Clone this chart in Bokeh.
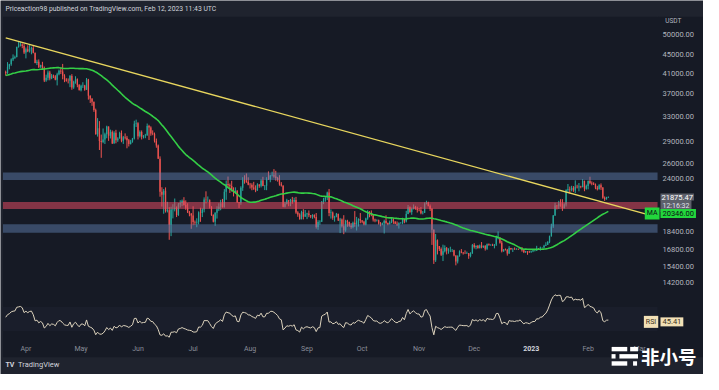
import numpy as np
import pandas as pd
from bokeh.plotting import figure
from bokeh.models import Range1d, LinearScale, BoxAnnotation, Label
from bokeh.core.properties import value
from bokeh.embed import file_html
from bokeh.resources import INLINE

# ---------------- data (BTC/USDT daily) ----------------
start_date = "2022-03-21"

# closes before the visible window (for the 50-day MA and RSI 14)
prior_close = [38480, 38740, 36950, 37150, 41570, 41410, 42410, 43840, 44040, 44380,
               43510, 42390, 42220, 42070, 42540, 44580, 43900, 40520, 40000, 40080,
               38370, 37010, 38250, 37250, 38330, 39210, 39140, 37700, 43190, 44420,
               43920, 42450, 39150, 39400, 38420, 37990, 38730, 41940, 39440, 38730,
               38810, 37780, 39670, 39280, 41110, 40920, 41760, 42200, 41260]

close = [
    41000, 42370, 42890, 43960, 44350, 44500, 46820, 47130, 47430, 47060, 45530,
    46280, 45810, 46400, 46580, 45500, 43170, 43440, 42280, 42760, 42160, 39530, 40080, 41150, 39940, 40550,
    40380, 39680, 40800, 41500, 41360, 40480, 39710, 39470, 39450, 40430, 38120, 39240, 39740, 38600, 37630,
    38470, 38530, 37710, 39690, 36550, 36010, 35470, 34040, 30080, 31010, 29080, 28940, 29280, 30080, 31300,
    29860, 30420, 28720, 30310, 29200, 29430, 30290, 29100, 29650, 29540, 29200, 28620, 29010, 29450, 31730, 31800,
    29800, 30450, 29700, 29860, 29900, 31370, 31120, 30200, 30110, 29090, 28420, 26570, 22490, 22130, 22580,
    20380, 20470, 19020, 20550, 20570, 20720, 19970, 21080, 21230, 21490, 21030, 20730, 20250, 20100, 19940,
    19290, 19240, 19310, 20230, 20190, 20550, 21620, 21590, 21590, 20860, 19970, 19320, 20210, 20580, 20830,
    21190, 20780, 22480, 23390, 23230, 23150, 22680, 22450, 22580, 21310, 21250, 22950, 23850, 23770, 23640, 23300,
    23270, 22980, 22820, 22620, 23310, 23180, 23810, 23150, 23160, 23950, 23940, 24400, 24440, 24300, 24090,
    23850, 23340, 23190, 20830, 21140, 21520, 21400, 21530, 21370, 21560, 20240, 20040, 19550, 20280, 19810, 20050,
    20130, 19950, 19830, 19990, 19790, 18790, 19290, 19320, 21360, 21650, 21830, 22400, 20180, 20230, 19700,
    19800, 20110, 19420, 19540, 18880, 18490, 19400, 19290, 18920, 18800, 19220, 19080, 19410, 19590, 19420,
    19310, 19050, 19620, 20340, 20160, 19960, 19530, 19420, 19450, 19130, 19060, 19150, 19380, 19190, 19070,
    19270, 19550, 19330, 19120, 19040, 19170, 19200, 19570, 19330, 20090, 20770, 20290, 20600, 20820, 20630, 20490,
    20480, 20150, 20210, 21150, 21300, 20910, 20590, 18540, 15880, 17590, 17070, 16810, 16330, 16620, 16900,
    16660, 16690, 16700, 16700, 16280, 15780, 16230, 16600, 16520, 16460, 16440, 16460, 16220, 16440, 17170,
    16980, 17090, 16890, 17110, 16970, 17090, 16840, 17230, 17130, 17130, 17090, 17210, 17780, 17810, 17360,
    16630, 16780, 16740, 16440, 16900, 16820, 16830, 16780, 16840, 16830, 16920, 16710, 16550, 16630, 16600, 16540,
    16620, 16680, 16680, 16850, 16830, 16950, 16950, 17090, 17190, 17440, 17940, 18850, 19930, 20960, 20880,
    21170, 21160, 20680, 21080, 22670, 22780, 22710, 22920, 22630, 23060, 23010, 23080, 23030, 23740, 22830, 23130,
    23730, 23490, 23430, 23330, 22940, 22760, 23240, 22960, 21800, 21630, 21860, 21875.47]

high = [
    41540, 43370, 43000, 44200, 45100, 44820, 46920, 48190, 48100, 47700, 47600,
    46700, 47210, 47440, 46890, 47200, 45510, 43900, 43970, 42800, 43440, 42410, 40700, 41560, 41500, 40850,
    40710, 40600, 41100, 41760, 42200, 42980, 40790, 39980, 39930, 40620, 40800, 39470, 40370, 39930, 38800,
    38680, 39170, 38650, 40020, 39840, 36650, 36140, 35500, 34260, 32650, 32160, 30040, 30980, 30330, 31420,
    31300, 30800, 30670, 30550, 30770, 29640, 30470, 30670, 29830, 30220, 29840, 29380, 29250, 29530, 32220, 32400,
    31980, 30680, 30670, 29950, 30150, 31770, 31560, 31330, 30690, 30350, 29440, 28560, 26900, 23000, 22790,
    22980, 21360, 20790, 20830, 21100, 21720, 20870, 21230, 21530, 21610, 21870, 21520, 21200, 20400, 20180,
    20880, 19430, 19650, 20350, 20730, 20670, 21850, 22530, 21950, 21610, 20880, 20050, 20260, 20880, 21200,
    21580, 21680, 22780, 23800, 24280, 23440, 23760, 22990, 22990, 22660, 21340, 23110, 24200, 24440, 24670, 24190,
    23510, 23460, 23640, 23220, 23470, 23350, 23930, 24250, 23240, 24200, 24920, 24460, 24890, 25210, 25000,
    24240, 24450, 23600, 23200, 21380, 21690, 21530, 21680, 21900, 21820, 21900, 20370, 20160, 20420, 20580, 20490,
    20210, 20450, 19970, 20060, 20050, 20180, 19460, 19460, 21450, 21800, 21860, 22490, 22800, 20550, 20340,
    19900, 20190, 20100, 19690, 19630, 19960, 19500, 19500, 19320, 19180, 19320, 20380, 19790, 19650, 20180,
    19480, 19400, 19710, 20470, 20360, 20450, 20050, 19610, 19550, 19520, 19270, 19230, 19510, 19950, 19230,
    19420, 19680, 19700, 19350, 19340, 19250, 19260, 19700, 19600, 20410, 21020, 20870, 20750, 21080, 20930, 20840,
    20690, 20800, 20390, 21300, 21480, 21370, 21070, 20700, 18590, 18150, 17650, 17070, 16950, 17190, 17130,
    16990, 16880, 17010, 16820, 16750, 16290, 16290, 16700, 16810, 16550, 16700, 16600, 16480, 16540, 17250,
    17320, 17110, 17160, 17200, 17420, 17110, 17140, 17290, 17300, 17230, 17270, 17240, 18000, 18390, 17850,
    17530, 16800, 16860, 16820, 17060, 16910, 16870, 16950, 16870, 16860, 16940, 16970, 16780, 16660, 16640, 16640,
    16630, 16760, 16780, 17090, 16880, 17020, 16960, 17180, 17400, 17490, 18000, 19120, 19980, 21260, 21000,
    21470, 21650, 21650, 21190, 22760, 23380, 23080, 23170, 23130, 23820, 23290, 23500, 23170, 23960, 23790, 23310,
    23810, 24260, 23690, 23590, 23440, 23160, 23360, 23450, 23010, 21950, 21910, 21950]

low = [
    40500, 40880, 41820, 42570, 43600, 44080, 44420, 46660, 46950, 46540, 45200,
    44200, 45620, 45530, 45120, 45350, 43120, 42730, 42110, 42130, 41870, 39200, 39250, 39550, 39550, 39770,
    40000, 39550, 38540, 40570, 40820, 39750, 39180, 39280, 38930, 38200, 37700, 37870, 38880, 38180, 37580,
    37390, 38050, 37510, 37670, 35860, 35260, 34750, 33710, 30030, 29730, 27780, 26700, 28750, 28630, 29480,
    29100, 29450, 28650, 28690, 28740, 28950, 29450, 28890, 28650, 29300, 28020, 28280, 28560, 28830, 29300, 31220,
    29300, 29590, 29300, 29450, 29490, 29880, 29220, 29860, 29940, 28850, 28100, 26560, 21920, 20850, 20110,
    20230, 20240, 17620, 17950, 19640, 20350, 19770, 19890, 20750, 20900, 20960, 20510, 20180, 19850, 18630,
    18970, 19000, 18780, 19050, 19300, 19770, 20250, 21190, 21320, 20650, 19890, 19240, 18910, 19620, 20380,
    20470, 20760, 20760, 21580, 22900, 22340, 22500, 21950, 22260, 21250, 20710, 21040, 22580, 23420, 23520, 23230,
    22850, 22650, 22690, 22430, 22590, 22940, 22980, 23120, 22670, 22660, 23870, 23590, 24300, 24140, 23770,
    23660, 23180, 23080, 20780, 20760, 21080, 20890, 20890, 21150, 21320, 20100, 19800, 19520, 19550, 19540, 19800,
    19570, 19760, 19660, 19600, 19650, 18650, 18540, 19010, 19290, 21110, 21370, 21550, 19860, 19620, 19500,
    19320, 19750, 19380, 18230, 18750, 18130, 18360, 18820, 18820, 18630, 18680, 18820, 18470, 18840, 19160,
    19160, 18960, 18960, 19500, 19750, 19860, 19330, 19260, 19330, 19030, 18860, 18970, 18190, 19070, 18970,
    19060, 19160, 19100, 19080, 18900, 18650, 19130, 19070, 19160, 19240, 20060, 20200, 20000, 20550, 20520, 20230,
    20360, 20050, 20040, 20180, 21080, 20870, 20390, 17170, 15590, 15750, 16360, 16650, 16230, 15820, 16530,
    16360, 16420, 16550, 16560, 16200, 15480, 15630, 16170, 16460, 16350, 16410, 16400, 16000, 16120, 16420,
    16860, 16790, 16860, 16880, 16870, 16910, 16680, 16740, 17110, 17090, 17070, 16870, 17080, 17660, 17280,
    16530, 16580, 16690, 16260, 16400, 16720, 16560, 16760, 16770, 16730, 16780, 16590, 16470, 16490, 16330, 16490,
    16500, 16550, 16610, 16660, 16760, 16680, 16900, 16910, 17080, 17160, 17320, 17910, 18710, 19890, 20550,
    20600, 20840, 20400, 20660, 20860, 22420, 22290, 22530, 22460, 22320, 22860, 22530, 22880, 22980, 22540, 22720,
    22760, 23360, 23230, 23260, 22770, 22630, 22740, 22690, 21690, 21460, 21600, 21780]

# horizontal zones (price bands)
zone_low = [23850, 20610, 18250]
zone_high = [24790, 21350, 19070]
zone_kind = ["blue", "red", "blue"]

# descending trend line
trend_dates = ["2022-03-21", "2023-03-10"]
trend_prices = [49040, 19800]

# axis ticks
price_ticks = [14200, 15400, 16800, 18400, 24000, 26000, 29000, 33000, 37000, 41000, 45000, 50000]
month_ticks = ["2022-04-01", "2022-05-01", "2022-06-01", "2022-07-01", "2022-08-01", "2022-09-01",
               "2022-10-01", "2022-11-01", "2022-12-01", "2023-01-01", "2023-02-01", "2023-03-01"]
rsi_levels = [70, 50, 30]

title_text = "Priceaction98 published on TradingView.com, Feb 12, 2023 11:43 UTC"
currency_text = "USDT"
last_price_text = "21875.47"
countdown_text = "12:16:32"
ma_text = "20346.00"
rsi_text = "45.41"
rsi_last = 45.41
ma_last = 20346.0

# ---------------- derived series ----------------
dates = pd.date_range(start_date, periods=len(close), freq="D")
opens = [prior_close[-1]] + close[:-1]
allc = np.array(prior_close + close, dtype=float)
npre = len(prior_close)

sma = pd.Series(allc).rolling(50).mean().values[npre:]

d = np.diff(allc)
g = np.where(d > 0, d, 0.0)
l = np.where(d < 0, -d, 0.0)
n = 14
ag = np.full(len(d), np.nan)
al = np.full(len(d), np.nan)
ag[n - 1] = g[:n].mean()
al[n - 1] = l[:n].mean()
for i in range(n, len(d)):
    ag[i] = (ag[i - 1] * (n - 1) + g[i]) / n
    al[i] = (al[i - 1] * (n - 1) + l[i]) / n
rsi_all = np.concatenate([[np.nan], 100 - 100 / (1 + ag / al)])
rsi = rsi_all[npre:]

o = np.array(opens, float)
c = np.array(close, float)
up = c >= o
UP, DN = "#26a69a", "#ef5350"
colors = [UP if u else DN for u in up]
body_top = np.maximum(o, c)
body_bot = np.minimum(o, c)


def ts(s):
    return pd.Timestamp(s).value / 1e6


# ---------------- layout constants (placement of the panes on the canvas) ----------------
X_START, X_END = "2022-03-18 04:00", "2023-04-04 19:00"   # whole canvas width
CHART_LEFT = "2022-03-19 12:00"
AXIS_START = "2023-03-10 19:00"                            # price-axis column starts here
AXIS_TEXT_X = "2023-03-13 12:00"
TAG_X = "2023-03-12 09:00"
P_LO, P_HI = 8900.6, 59275.0          # log price range over full canvas height
R_LO, R_HI = -40.0, 567.0             # RSI range over full canvas height
PANE_TOP_PRICE = 54573.0              # bottom of header strip
CHART_BOTTOM_PRICE = 9716.0           # bottom of time-axis row
TIME_ROW_TOP_RSI = 12.9
TIME_LABEL_RSI = 2.0
RSI_PANE_TOP = 103

BG = "#161a25"
STRIP = "#1f232e"
SEP = "#2a2e39"
W, H = 703, 374
p = figure(width=W, height=H, title=None, x_axis_type="datetime", y_axis_type="log",
           x_axis_location=None, y_axis_location=None,
           x_range=Range1d(ts(X_START), ts(X_END)), y_range=Range1d(P_LO, P_HI),
           output_backend="svg", toolbar_location=None,
           min_border_left=0, min_border_right=0, min_border_top=0, min_border_bottom=0,
           background_fill_color=STRIP, border_fill_color=STRIP, outline_line_color=None)
p.xgrid.visible = False
p.ygrid.visible = False

p.extra_y_ranges = {"rsi": Range1d(R_LO, R_HI)}
p.extra_y_scales = {"rsi": LinearScale()}

# chart panel (price pane + RSI pane + time row + price axis column)
p.add_layout(BoxAnnotation(left=ts(CHART_LEFT), top=PANE_TOP_PRICE, bottom=CHART_BOTTOM_PRICE,
                           fill_color=BG, fill_alpha=1, line_color=None, level="underlay"))

# RSI pane decorations
p.add_layout(BoxAnnotation(left=ts(CHART_LEFT), right=ts(AXIS_START), bottom=30, top=70,
                           y_range_name="rsi", fill_color="#1a1e2b", fill_alpha=1,
                           line_color=None, level="underlay"))
for loc in (RSI_PANE_TOP, TIME_ROW_TOP_RSI):
    p.segment(x0=[ts(CHART_LEFT)], x1=[ts(X_END)], y0=[loc], y1=[loc], y_range_name="rsi",
              line_color=SEP, line_width=1, level="underlay")
p.segment(x0=[ts(AXIS_START)], x1=[ts(AXIS_START)], y0=[PANE_TOP_PRICE], y1=[CHART_BOTTOM_PRICE],
          line_color=SEP, line_width=1, level="underlay")
lvl_colors = ["#3c404c", "#6a4550", "#352a34"]
lvl_dash = ["solid", "2 2", "solid"]
for lv, lc, ld in zip(rsi_levels, lvl_colors, lvl_dash):
    p.segment(x0=[ts(CHART_LEFT)], x1=[ts(AXIS_START)], y0=[lv], y1=[lv], y_range_name="rsi",
              line_color=lc, line_width=1, line_dash=ld, level="underlay")

# candles
p.segment(x0=dates, y0=low, x1=dates, y1=high, line_color=colors, line_width=1)
p.vbar(x=dates, width=0.7 * 86400000, top=body_top, bottom=body_bot,
       fill_color=colors, line_color=None)

# zones
zl = [ts(CHART_LEFT)] * len(zone_low)
zr = [ts(AXIS_START)] * len(zone_low)
zc = ["#6384b8" if k == "blue" else "#e04a62" for k in zone_kind]
za = [0.45 if k == "blue" else 0.55 for k in zone_kind]
p.quad(left=zl, right=zr, bottom=zone_low, top=zone_high, fill_color=zc, fill_alpha=za,
       line_color=None, level="annotation")

# lines
p.line(dates, sma, line_color="#34cf46", line_width=1.6, level="overlay")
p.line(pd.to_datetime(trend_dates), trend_prices, line_color="#e8d65e", line_width=1.3,
       level="overlay")
p.line(dates, rsi, y_range_name="rsi", line_color="#ddd3bd", line_width=1)

# price-axis tick labels
p.text(x=[ts(AXIS_TEXT_X)] * len(price_ticks), y=price_ticks,
       text=[f"{t:.2f}" for t in price_ticks],
       text_font=value("Roboto"), text_font_size=value("7.5px"), text_color="#b2b5be",
       text_baseline="middle", text_align="left")

# time-axis labels
mt = pd.to_datetime(month_ticks)
mlab = [str(t.year) if t.month == 1 else t.strftime("%b") for t in mt]
mcol = ["#d1d4dc" if t.month == 1 else "#8a8e99" for t in mt]
mstyle = ["bold" if t.month == 1 else "normal" for t in mt]
p.text(x=mt, y=[TIME_LABEL_RSI] * len(mt), y_range_name="rsi", text=mlab,
       text_font=value("Roboto"), text_font_size=value("7px"), text_color=mcol,
       text_font_style=mstyle, text_baseline="middle", text_align="center")


def tag(text, x, y, bg, fg, size="7px", y_range_name="default",
        y_offset=0, level="annotation", font="Roboto", style="normal", pad=2, align="left"):
    lab = Label(x=ts(x), y=y, text=text,
                text_font=font, text_font_size=size, text_color=fg,
                text_font_style=style, text_baseline="middle", text_align=align,
                background_fill_color=bg, padding=pad, y_range_name=y_range_name,
                y_offset=y_offset, level=level)
    p.add_layout(lab)
    return lab


tag(title_text, "2022-03-20 20:00", 56737, None, "#d1d4dc", size="6.8px", pad=0)
tag(currency_text, "2023-03-14 23:00", 53522, None, "#b2b5be", size="6.5px", pad=0)
# countdown first so the price text sits on top of the shared grey tag
tag(countdown_text, TAG_X, float(close[-1]), "#5d606b", "#e0e3eb", size="7px", y_offset=-9)
tag(last_price_text, TAG_X, float(close[-1]), "#5d606b", "#ffffff", size="7.5px", pad=1)
tag("MA", "2023-03-03 20:00", ma_last, "#22d63c", "#0c0e15", size="7px", y_offset=-2, level="overlay")
tag(ma_text, TAG_X, ma_last, "#22d63c", "#0c0e15", size="7.5px", y_offset=-2, level="overlay")
tag("RSI", "2023-03-03 08:00", rsi_last, "#f2e0b6", "#3b3220", size="7px", y_range_name="rsi",
    level="overlay")
tag(rsi_text, TAG_X, rsi_last, "#f2e0b6", "#3b3220", size="7.5px", y_range_name="rsi", level="overlay")
tag("TV", "2022-03-20 20:00", -24.5, None, "#d1d4dc", size="7px", y_range_name="rsi",
    style="bold", pad=0)
tag("TradingView", "2022-03-27 18:00", -24.5, None, "#d1d4dc", size="7.5px", y_range_name="rsi",
    pad=0)

# watermark logo (bars) and text
icon_x = ["2023-02-18 01:00", "2023-02-26 00:00", "2023-02-14 20:00", "2023-02-23 02:00",
          "2023-02-18 01:00", "2023-02-26 13:00"]
icon_y = [1.2, 1.2, -10.5, -10.5, -22.1, -22.1]
icon_w = [15.6, 7.8, 4.0, 18.6, 15.6, 4.0]
p.rect(x=[ts(v) for v in icon_x], y=icon_y, width=icon_w, height=[4.4] * 6,
       width_units="screen", height_units="screen", y_range_name="rsi",
       fill_color="#ffffff", line_color=None, level="overlay")
tag("非小号", "2023-03-01 17:00", -10.5, None, "#ffffff", size="18.5px", y_range_name="rsi",
    font="Noto Sans CJK SC", style="bold", pad=0, level="overlay")

open("out.html", "w").write(file_html(p, INLINE))
